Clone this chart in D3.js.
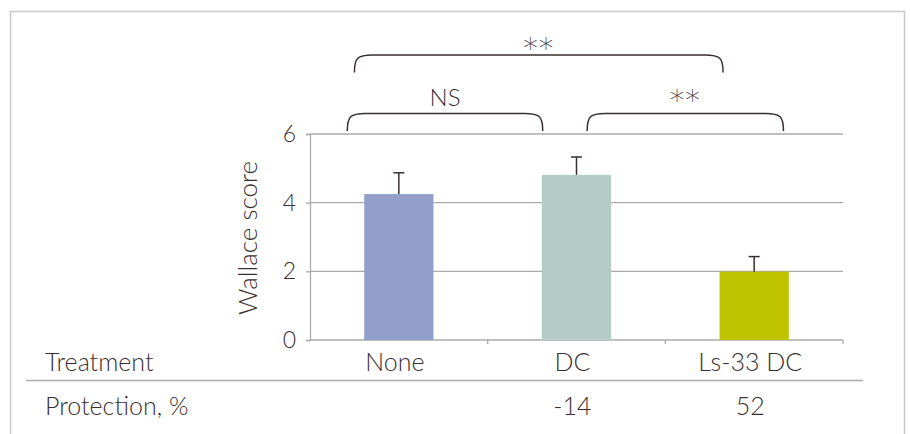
<!DOCTYPE html>
<html>
<head>
<meta charset="utf-8">
<script src="https://cdn.jsdelivr.net/npm/d3@7"></script>
<style>
  body { margin: 0; background: #fff; }
  svg text { font-family: Lato, "Open Sans", sans-serif; font-weight: 300; fill: #3a2f30; }
</style>
</head>
<body>
<svg id="chart" width="910" height="434"></svg>
<script>
// data
const categories = ['None', 'DC', 'Ls-33 DC'];
const means = [4.25, 4.81, 1.99];
const errors = [0.62, 0.52, 0.44];
const protection = ['', '-14', '52'];
const yTicks = [0, 2, 4, 6];
const comparisons = [
  {from: 'None', to: 'DC', label: 'NS', level: 0},
  {from: 'DC', to: 'Ls-33 DC', label: '**', level: 0},
  {from: 'None', to: 'Ls-33 DC', label: '**', level: 1}
];

const colors = ['#919fca', '#b3cdc6', '#c0c300'];
const ink = '#3a2f30';
const gridColor = '#ababab';

// brace end offsets, as fraction of band width from band center
const braceOffsets = [[-0.29, -0.19], [0.06, 0.165], [-0.25, -0.175]];
const labelShift = [-8, -4, 3];
const levelY = [113.5, 55];

const svg = d3.select('#chart');

// frame
svg.append('rect')
    .attr('x', 10.5).attr('y', 11.5)
    .attr('width', 894).attr('height', 440)
    .attr('fill', 'none')
    .attr('stroke', '#c8c8c8')
    .attr('stroke-width', 1.5);

const x = d3.scaleBand()
    .domain(categories)
    .range([310, 843])
    .padding(0);

const y = d3.scaleLinear()
    .domain([0, 6])
    .range([340, 134]);

const barW = x.bandwidth() * 0.39;
const cx = c => x(c) + x.bandwidth() / 2;

// gridlines
svg.append('g')
  .selectAll('line')
  .data(yTicks.filter(d => d > 0))
  .join('line')
    .attr('x1', 310).attr('x2', 843)
    .attr('y1', d => y(d)).attr('y2', d => y(d))
    .attr('stroke', gridColor)
    .attr('stroke-width', 1.3);

// y axis
const yAxis = svg.append('g')
    .attr('transform', 'translate(310,0)')
    .call(d3.axisLeft(y).tickValues(yTicks).tickSize(4).tickPadding(10).tickFormat(d3.format('d')));
yAxis.select('.domain').attr('stroke', gridColor).attr('stroke-width', 1.3);
yAxis.selectAll('.tick line').attr('stroke', gridColor).attr('stroke-width', 1.3);
yAxis.selectAll('text')
    .attr('font-size', 23)
    .style('font-family', 'Lato, "Open Sans", sans-serif')
    .style('font-weight', 300)
    .attr('fill', ink);

// x axis baseline with boundary ticks
const boundaries = categories.map(c => x(c)).concat([x.range()[1]]);
svg.append('line')
    .attr('x1', 310).attr('x2', 843)
    .attr('y1', y(0)).attr('y2', y(0))
    .attr('stroke', gridColor).attr('stroke-width', 1.3);
svg.append('g')
  .selectAll('line')
  .data(boundaries.slice(1))
  .join('line')
    .attr('x1', d => d).attr('x2', d => d)
    .attr('y1', y(0)).attr('y2', y(0) + 4)
    .attr('stroke', gridColor).attr('stroke-width', 1.3);

// bars
svg.append('g')
  .selectAll('rect')
  .data(categories)
  .join('rect')
    .attr('x', d => cx(d) - barW / 2)
    .attr('y', (d, i) => y(means[i]))
    .attr('width', barW)
    .attr('height', (d, i) => y(0) - y(means[i]))
    .attr('fill', (d, i) => colors[i]);

// error bars
const eb = svg.append('g').attr('stroke', ink).attr('stroke-width', 1.5);
categories.forEach((c, i) => {
  const top = y(means[i] + errors[i]);
  eb.append('line')
      .attr('x1', cx(c)).attr('x2', cx(c))
      .attr('y1', y(means[i])).attr('y2', top);
  eb.append('line')
      .attr('x1', cx(c) - 5.5).attr('x2', cx(c) + 5.5)
      .attr('y1', top).attr('y2', top);
});

// y label
svg.append('text')
    .attr('transform', 'translate(257,238) rotate(-90)')
    .attr('text-anchor', 'middle')
    .attr('font-size', 26)
    .text('Wallace score');

// significance braces
const braceH = 17.5;
const r = 18;
comparisons.forEach((cmp, i) => {
  const x1 = cx(cmp.from) + braceOffsets[i][0] * x.bandwidth();
  const x2 = cx(cmp.to) + braceOffsets[i][1] * x.bandwidth();
  const yt = levelY[cmp.level];
  const yb = yt + braceH;
  const p = d3.path();
  p.moveTo(x1, yb);
  p.bezierCurveTo(x1, yt + 3, x1 + 3, yt, x1 + r, yt);
  p.lineTo(x2 - r, yt);
  p.bezierCurveTo(x2 - 3, yt, x2, yt + 3, x2, yb);
  svg.append('path')
      .attr('d', p.toString())
      .attr('fill', 'none')
      .attr('stroke', ink)
      .attr('stroke-width', 1.5);
  const t = svg.append('text')
      .attr('x', (x1 + x2) / 2)
      .attr('y', yt + labelShift[i])
      .attr('text-anchor', 'middle')
      .text(cmp.label);
  if (cmp.label === 'NS') {
    t.attr('font-size', 24);
  } else {
    t.attr('font-size', 29)
      .style('font-family', '"DejaVu Sans", sans-serif')
      .style('font-weight', 200)
      .attr('letter-spacing', 1);
  }
});

// table rows
svg.append('text')
    .attr('x', 45).attr('y', 370.5)
    .attr('font-size', 25)
    .text('Treatment');
svg.append('g')
  .selectAll('text')
  .data(categories)
  .join('text')
    .attr('x', d => cx(d) - 4)
    .attr('y', 370.5)
    .attr('text-anchor', 'middle')
    .attr('font-size', 25)
    .text(d => d);

svg.append('line')
    .attr('x1', 26).attr('x2', 863)
    .attr('y1', 380.5).attr('y2', 380.5)
    .attr('stroke', gridColor).attr('stroke-width', 1.5);

svg.append('text')
    .attr('x', 45).attr('y', 414.5)
    .attr('font-size', 25)
    .text('Protection, %');
svg.append('g')
  .selectAll('text')
  .data(protection)
  .join('text')
    .attr('x', (d, i) => cx(categories[i]) - 4)
    .attr('y', 414.5)
    .attr('text-anchor', 'middle')
    .attr('font-size', 25)
    .text(d => d);
</script>
</body>
</html>
